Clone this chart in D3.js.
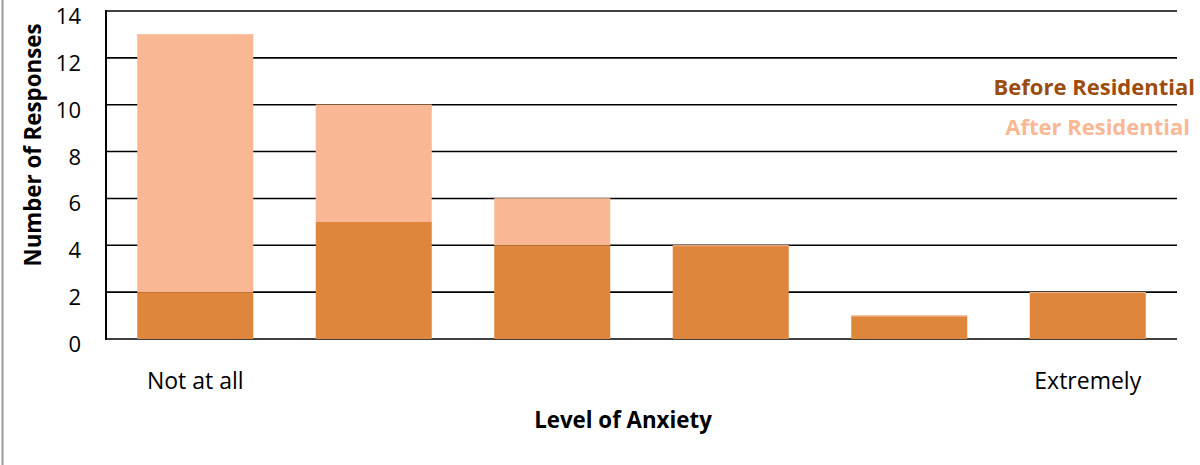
<!DOCTYPE html>
<html><head><meta charset="utf-8">
<script src="https://cdn.jsdelivr.net/npm/d3@7/dist/d3.min.js"></script>
<style>body{margin:0;background:#fff;}svg{display:block;}</style>
</head><body>
<svg id="c" width="1200" height="465"></svg>
<script>
const categories = ["Not at all", "2", "3", "4", "5", "Extremely"];
const tickLabels = ["Not at all", "", "", "", "", "Extremely"];
const beforeValues = [2, 5, 4, 4, 1, 2];
const afterValues = [11, 5, 2, 0, 0, 0];
const yTicks = [0, 2, 4, 6, 8, 10, 12, 14];
const seriesNames = ["Before Residential", "After Residential"];
const colors = {before: "#dd863c", after: "#f9b893", beforeText: "#9c4d0e"};

const svg = d3.select("#c");
const font = "'Open Sans', sans-serif";
const m = {l: 106, r: 1177, t: 11, b: 339};
const x = d3.scaleBand().domain(categories).range([m.l, m.r]).paddingInner(0.35).paddingOuter(0.175);
const y = d3.scaleLinear().domain([0, 14]).range([m.b, m.t]);

svg.append("line").attr("x1", 2.5).attr("x2", 2.5).attr("y1", 0).attr("y2", 465)
  .attr("stroke", "#9a9a9a").attr("stroke-width", 2);

svg.append("g").selectAll("line").data(yTicks).join("line")
  .attr("x1", m.l).attr("x2", m.r).attr("y1", d => y(d)).attr("y2", d => y(d))
  .attr("stroke", "#000").attr("stroke-width", 1.6);

const stacked = categories.map((c, i) => ({c, b: beforeValues[i], a: afterValues[i]}));
const g = svg.append("g");
g.selectAll("rect.a").data(stacked).join("rect").attr("class", "a")
  .attr("x", d => x(d.c)).attr("width", x.bandwidth())
  .attr("y", d => y(d.b + d.a)).attr("height", d => y(d.b) - y(d.b + d.a))
  .attr("fill", colors.after);
g.selectAll("rect.b").data(stacked).join("rect").attr("class", "b")
  .attr("x", d => x(d.c)).attr("width", x.bandwidth())
  .attr("y", d => y(d.b)).attr("height", d => y(0) - y(d.b))
  .attr("fill", colors.before);
g.selectAll("line.top").data(stacked).join("line").attr("class", "top")
  .attr("x1", d => x(d.c)).attr("x2", d => x(d.c) + x.bandwidth())
  .attr("y1", d => y(d.b + d.a) + 0.5).attr("y2", d => y(d.b + d.a) + 0.5)
  .attr("stroke", colors.after).attr("stroke-width", 1);

svg.append("line").attr("x1", m.l).attr("x2", m.l).attr("y1", m.t - 1).attr("y2", m.b + 1)
  .attr("stroke", "#000").attr("stroke-width", 2);

const yAxis = d3.axisLeft(y).tickValues(yTicks).tickSize(0).tickPadding(25);
const ya = svg.append("g").attr("transform", `translate(${m.l},0)`).call(yAxis);
ya.select(".domain").remove();
ya.selectAll("text").attr("font-family", font).attr("font-size", 22).attr("fill", "#000").attr("dy", "0.57em");

const xAxis = d3.axisBottom(x).tickSize(0).tickPadding(34).tickFormat((d, i) => tickLabels[i]);
const xa = svg.append("g").attr("transform", `translate(0,${m.b})`).call(xAxis);
xa.select(".domain").remove();
xa.selectAll("text").attr("font-family", font).attr("font-size", 23).attr("fill", "#000");

svg.append("text").attr("x", 623).attr("y", 428).attr("text-anchor", "middle")
  .attr("font-family", font).attr("font-weight", "bold").attr("font-size", 22.3).text("Level of Anxiety");
svg.append("text").attr("transform", "translate(41,145) rotate(-90)").attr("text-anchor", "middle")
  .attr("font-family", font).attr("font-weight", "bold").attr("font-size", 22.3).text("Number of Responses");

svg.append("text").attr("x", 1195).attr("y", 95).attr("text-anchor", "end")
  .attr("font-family", font).attr("font-weight", "bold").attr("font-size", 22)
  .attr("fill", colors.beforeText).text(seriesNames[0]);
svg.append("text").attr("x", 1190).attr("y", 135).attr("text-anchor", "end")
  .attr("font-family", font).attr("font-weight", "bold").attr("font-size", 22)
  .attr("fill", colors.after).text(seriesNames[1]);
</script>
</body></html>
